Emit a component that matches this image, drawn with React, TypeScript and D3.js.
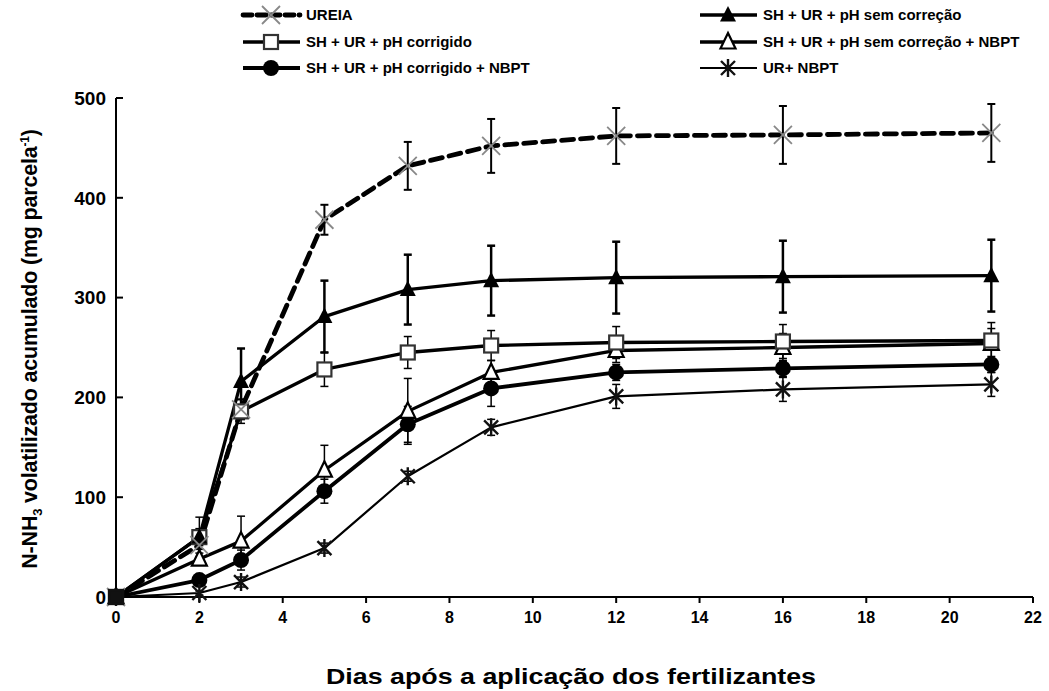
import React from "react";
import * as d3 from "d3";

const days = [0, 2, 3, 5, 7, 9, 12, 16, 21];
const ureia = [0, 52, 188, 378, 432, 452, 462, 463, 465];
const ureiaErr = [0, 4, 10, 15, 24, 27, 28, 29, 29];
const semCorr = [0, 60, 216, 281, 308, 317, 320, 321, 322];
const semCorrErr = [0, 8, 33, 36, 35, 35, 36, 36, 36];
const corrigido = [0, 60, 186, 228, 245, 252, 255, 256, 257];
const corrigidoErr = [0, 20, 12, 17, 16, 15, 16, 17, 18];
const semCorrNbpt = [0, 38, 56, 127, 186, 225, 247, 250, 254];
const semCorrNbptErr = [0, 6, 25, 25, 33, 12, 12, 14, 15];
const corrNbpt = [0, 17, 37, 106, 173, 209, 225, 229, 233];
const corrNbptErr = [0, 4, 10, 12, 18, 18, 8, 8, 8];
const urNbpt = [0, 4, 15, 49, 121, 170, 201, 208, 213];
const urNbptErr = [0, 2, 5, 5, 5, 8, 12, 12, 12];

const xTicks = [0, 2, 4, 6, 8, 10, 12, 14, 16, 18, 20, 22];
const yTicks = [0, 100, 200, 300, 400, 500];

const labels = [
  "UREIA",
  "SH + UR + pH sem correção",
  "SH + UR + pH corrigido",
  "SH + UR + pH sem correção + NBPT",
  "SH + UR + pH corrigido + NBPT",
  "UR+ NBPT",
];

type Series = {
  name: string;
  values: number[];
  err: number[];
  marker: string;
  width: number;
  dash?: string;
  errWidth: number;
};

const series: Series[] = [
  { name: labels[4], values: corrNbpt, err: corrNbptErr, marker: "circle", width: 3.8, errWidth: 1.5 },
  { name: labels[5], values: urNbpt, err: urNbptErr, marker: "asterisk", width: 2.2, errWidth: 1.5 },
  { name: labels[3], values: semCorrNbpt, err: semCorrNbptErr, marker: "triOpen", width: 3.3, errWidth: 1.5 },
  { name: labels[2], values: corrigido, err: corrigidoErr, marker: "square", width: 3.3, errWidth: 1.5 },
  { name: labels[1], values: semCorr, err: semCorrErr, marker: "triFilled", width: 3.3, errWidth: 2.5 },
  { name: labels[0], values: ureia, err: ureiaErr, marker: "x", width: 4.8, dash: "12 7", errWidth: 2 },
];

const font = "'Liberation Sans', Arial, sans-serif";

function Marker({ type, x, y, dark }: { type: string; x: number; y: number; dark?: boolean }) {
  switch (type) {
    case "circle":
      return <circle cx={x} cy={y} r={8} fill="#000" />;
    case "triFilled":
      return <path d={`M${x},${y - 9}L${x + 8},${y + 6.5}L${x - 8},${y + 6.5}Z`} fill="#000" />;
    case "triOpen":
      return (
        <path
          d={`M${x},${y - 9}L${x + 7.5},${y + 6.5}L${x - 7.5},${y + 6.5}Z`}
          fill="#fff"
          stroke="#000"
          strokeWidth={2.2}
        />
      );
    case "square":
      return (
        <rect
          x={x - 7}
          y={y - 7}
          width={14}
          height={14}
          fill={dark ? "#111" : "#fff"}
          stroke={dark ? "#111" : "#333"}
          strokeWidth={2.2}
        />
      );
    case "asterisk":
      return (
        <path
          d={`M${x - 7},${y - 7}L${x + 7},${y + 7}M${x - 7},${y + 7}L${x + 7},${y - 7}M${x},${y - 9}L${x},${y + 9}`}
          stroke="#111"
          strokeWidth={2.4}
        />
      );
    case "x":
      return (
        <path
          d={`M${x - 9},${y - 9}L${x + 9},${y + 9}M${x - 9},${y + 9}L${x + 9},${y - 9}`}
          stroke="#888"
          strokeWidth={1.8}
        />
      );
    default:
      return null;
  }
}

export default function App() {
  const W = 1049;
  const H = 691;
  const x = d3.scaleLinear().domain([0, 22]).range([116, 1033]);
  const y = d3.scaleLinear().domain([0, 500]).range([597, 98]);
  const line = d3
    .line<number>()
    .x((_, i) => x(days[i]))
    .y((d) => y(d));

  const legendItems = [
    { s: series[5], lx: 243, ly: 15 },
    { s: series[4], lx: 700, ly: 15 },
    { s: series[3], lx: 243, ly: 42 },
    { s: series[2], lx: 700, ly: 42 },
    { s: series[0], lx: 243, ly: 68 },
    { s: series[1], lx: 700, ly: 68 },
  ];

  const squareSeries = series[3];

  return (
    <svg
      width={W}
      height={H}
      style={{ position: "absolute", left: 0, top: 0, background: "#fff" }}
      fontFamily={font}
    >
      <rect width={W} height={H} fill="#fff" />
      {/* axes */}
      <line x1={x(0)} x2={x(0)} y1={y(0)} y2={y(500)} stroke="#000" strokeWidth={2} />
      <line x1={x(0)} x2={x(22)} y1={y(0)} y2={y(0)} stroke="#000" strokeWidth={2} />
      {yTicks.map((t) => (
        <g key={"y" + t}>
          <line x1={x(0)} x2={x(0) + 7} y1={y(t)} y2={y(t)} stroke="#000" strokeWidth={2} />
          <text x={x(0) - 10} y={y(t)} dy="0.36em" textAnchor="end" fontSize={19} fontWeight="bold">
            {t}
          </text>
        </g>
      ))}
      {xTicks.map((t) => (
        <g key={"x" + t}>
          <line x1={x(t)} x2={x(t)} y1={y(0)} y2={y(0) + 6} stroke="#000" strokeWidth={2} />
          <text x={x(t)} y={y(0) + 26} textAnchor="middle" fontSize={16} fontWeight="bold">
            {t}
          </text>
        </g>
      ))}
      {/* lines */}
      {series.map((s) => (
        <path
          key={"l" + s.name}
          d={line(s.values) || ""}
          fill="none"
          stroke="#000"
          strokeWidth={s.width}
          strokeDasharray={s.dash}
          strokeLinecap={s.dash ? "round" : "butt"}
          strokeLinejoin="round"
        />
      ))}
      {/* error bars */}
      {series.map((s) =>
        s.values.map((v, i) =>
          s.err[i] > 0 ? (
            <g key={"e" + s.name + i} stroke="#000" strokeWidth={s.errWidth}>
              <line x1={x(days[i])} x2={x(days[i])} y1={y(v - s.err[i])} y2={y(v + s.err[i])} />
              <line x1={x(days[i]) - 4} x2={x(days[i]) + 4} y1={y(v - s.err[i])} y2={y(v - s.err[i])} />
              <line x1={x(days[i]) - 4} x2={x(days[i]) + 4} y1={y(v + s.err[i])} y2={y(v + s.err[i])} />
            </g>
          ) : null
        )
      )}
      {/* markers */}
      {series.map((s) =>
        s.values.map((v, i) => <Marker key={"m" + s.name + i} type={s.marker} x={x(days[i])} y={y(v)} />)
      )}
      {/* overlapping markers at the origin render as a solid dark square */}
      <Marker type="square" x={x(days[0])} y={y(squareSeries.values[0])} dark />
      {/* legend */}
      {legendItems.map(({ s, lx, ly }) => (
        <g key={"lg" + s.name}>
          <line
            x1={lx}
            x2={lx + 57}
            y1={ly}
            y2={ly}
            stroke="#000"
            strokeWidth={s.width}
            strokeDasharray={s.dash ? "9 5" : undefined}
            strokeLinecap={s.dash ? "round" : "butt"}
          />
          <Marker type={s.marker} x={lx + 28} y={ly} />
          <text x={lx + 63} y={ly} dy="0.36em" fontSize={15} fontWeight="bold">
            {s.name}
          </text>
        </g>
      ))}
      {/* axis titles */}
      <text
        x={571}
        y={684}
        textAnchor="middle"
        fontSize={22}
        fontWeight="bold"
        textLength={490}
        lengthAdjust="spacingAndGlyphs"
      >
        Dias após a aplicação dos fertilizantes
      </text>
      <text
        transform={`translate(37,${349}) rotate(-90)`}
        textAnchor="middle"
        fontSize={21.5}
        fontWeight="bold"
        letterSpacing={-0.2}
      >
        N-NH
        <tspan fontSize={13} dy={5}>3</tspan>
        <tspan dy={-5}> volatilizado acumulado (mg parcela</tspan>
        <tspan fontSize={12} dy={-8}>-1</tspan>
        <tspan dy={8}>)</tspan>
      </text>
    </svg>
  );
}
